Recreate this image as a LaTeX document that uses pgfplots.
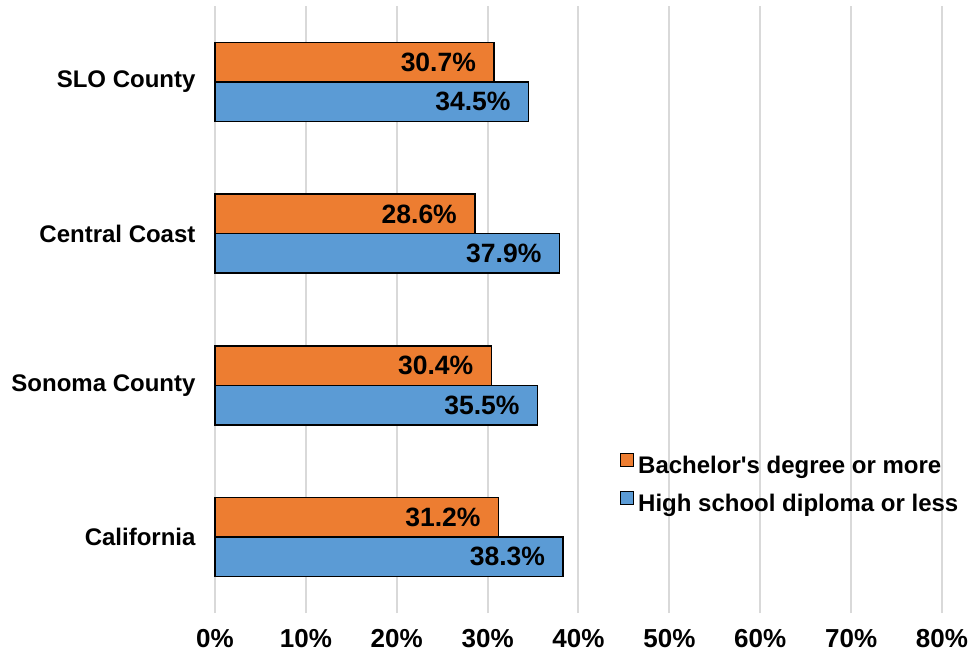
\documentclass[border=0pt]{standalone}
\usepackage{fontspec}
\setmainfont{Liberation Sans}
\usepackage{pgfplots}
\pgfplotsset{compat=1.18}

\definecolor{bachelor}{HTML}{ED7D31}
\definecolor{highschool}{HTML}{5B9BD5}
\definecolor{gridgray}{HTML}{D9D9D9}

\begin{document}
\begin{tikzpicture}
\begin{axis}[
  scale only axis,
  width=727pt, height=607pt,
  xmin=0, xmax=80,
  ymin=-0.5, ymax=3.5,
  clip=false,
  xbar,
  bar width=0.26,
  axis line style={draw=none},
  major tick length=0pt,
  xtick={0,10,...,80},
  xmajorgrids,
  grid style={gridgray, line width=2pt},
  ytick={0,1,2,3},
  yticklabels={California, Sonoma County, Central Coast, SLO County},
  /pgf/number format/assume math mode=true,
  xticklabel={\pgfmathprintnumber{\tick}\%},
  xticklabel style={font=\fontsize{26}{30}\selectfont\bfseries, yshift=-13pt},
  yticklabel style={font=\fontsize{24}{28}\selectfont\bfseries, xshift=-16pt},
  nodes near coords={\pgfmathprintnumber[fixed,fixed zerofill,precision=1]{\pgfplotspointmeta}\%},
  every node near coord/.append style={anchor=east, xshift=-14pt,
    font=\fontsize{26.5}{30}\selectfont\bfseries, text=black},
  legend style={at={(0.553,0.267)}, anchor=north west, draw=none, fill=none,
    font=\fontsize{24}{28}\selectfont\bfseries, row sep=14pt, column sep=2pt},
  legend cell align=left,
  legend image code/.code={\draw[#1, draw=black, line width=1pt] (0pt,-1pt) rectangle (13pt,12pt);},
]
\addplot[fill=bachelor, draw=black, line width=1.5pt, bar shift=0.13]
  coordinates {(31.2,0) (30.4,1) (28.6,2) (30.7,3)};
\addlegendentry{Bachelor\textquotesingle s degree or more}
\addplot[fill=highschool, draw=black, line width=1.5pt, bar shift=-0.13]
  coordinates {(38.3,0) (35.5,1) (37.9,2) (34.5,3)};
\addlegendentry{High school diploma or less}
\end{axis}
\pgfresetboundingbox
\path[use as bounding box] (-215pt,-43pt) rectangle (754pt,613pt);
\end{tikzpicture}
\end{document}
